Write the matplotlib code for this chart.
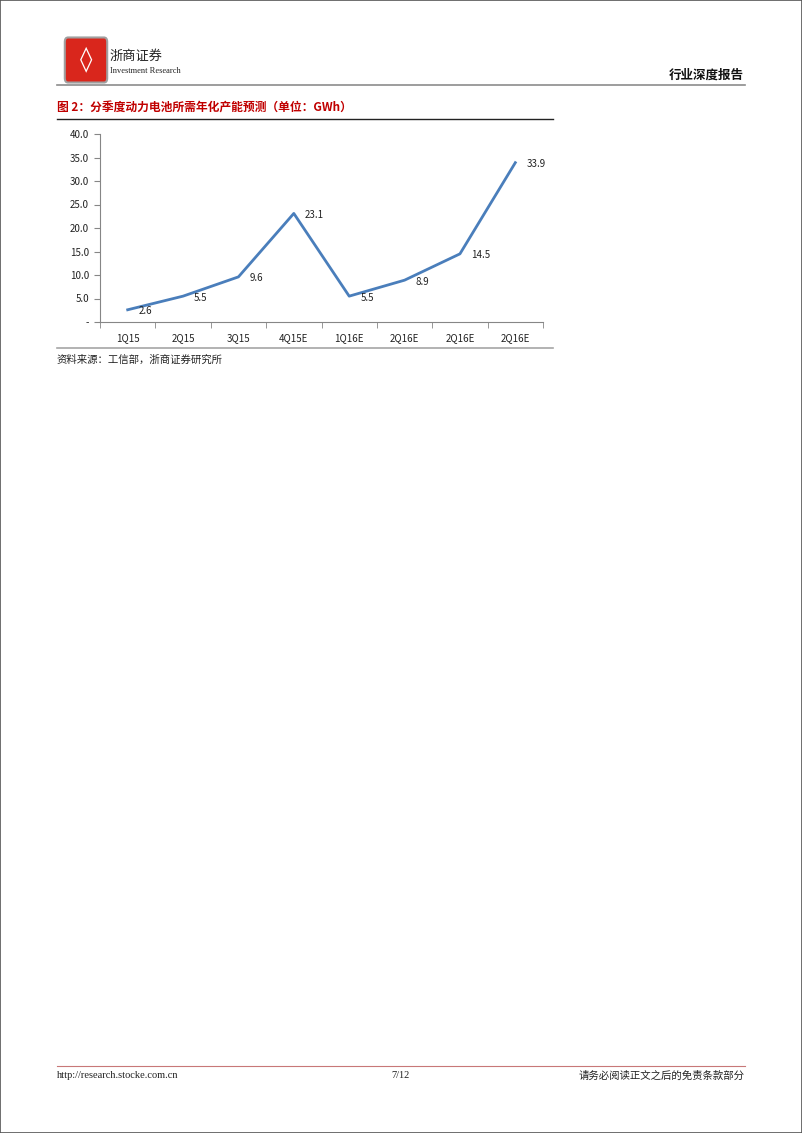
"""Annualized battery capacity chart, report page layout"""
import matplotlib
matplotlib.use("Agg")
import matplotlib.pyplot as plt
from matplotlib.patches import Rectangle, FancyBboxPatch
from matplotlib.lines import Line2D
import numpy as np

plt.rcParams['font.family'] = ['Noto Sans CJK SC', 'DejaVu Sans']

# data
quarters = ["1Q15", "2Q15", "3Q15", "4Q15E", "1Q16E", "2Q16E", "2Q16E", "2Q16E"]
capacity = [2.6, 5.5, 9.6, 23.1, 5.5, 8.9, 14.5, 33.9]
ytick_vals = [0, 5, 10, 15, 20, 25, 30, 35, 40]
ytick_labels = ["-", "5.0", "10.0", "15.0", "20.0", "25.0", "30.0", "35.0", "40.0"]

title = "图 2：分季度动力电池所需年化产能预测（单位：GWh）"
source = "资料来源：工信部，浙商证券研究所"

W, H = 802, 1133
fig = plt.figure(figsize=(W / 100, H / 100), dpi=100)


def fx(px):
    return px / W


def fy(py):
    return 1 - py / H


# page border
fig.add_artist(Rectangle((0, 0), 1, 1, transform=fig.transFigure, fill=False,
                         edgecolor="#555555", linewidth=1.2))

# header: logo + company name
fig.add_artist(FancyBboxPatch((fx(68), fy(78)), fx(36), fy(42) - fy(78),
                              boxstyle="round,pad=0.004", transform=fig.transFigure,
                              facecolor="#d9261c", edgecolor="#a0a0a0", linewidth=1.5))
fig.text(fx(86), fy(60), "◊", color="white", fontsize=18, ha="center", va="center",
         family=['DejaVu Sans'], fontweight="bold")
fig.text(fx(110), fy(56), "浙商证券", fontsize=9.5, ha="left", va="center", color="#222222")
fig.text(fx(110), fy(71), "Investment Research", fontsize=6, ha="left", va="center",
         color="#222222", family=['Liberation Serif'])
fig.text(fx(744), fy(75), "行业深度报告", fontsize=9, ha="right", va="center",
         color="#111111", fontweight="bold")
fig.add_artist(Line2D([fx(57), fx(745)], [fy(85), fy(85)], color="#8c8c8c", linewidth=1.2))

# figure title
fig.text(fx(57), fy(108), title, fontsize=8.5, ha="left", va="center",
         color="#c00000", fontweight="bold")
fig.add_artist(Line2D([fx(57), fx(553)], [fy(119), fy(119)], color="#222222", linewidth=1.0))

# chart
ax = fig.add_axes([fx(100), fy(322), fx(543) - fx(100), fy(134) - fy(322)])
x = np.arange(len(quarters))
ax.plot(x, capacity, color="#4a7ebb", linewidth=2.0)
for xi, v in zip(x, capacity):
    ax.annotate(f"{v:.1f}", (xi, v), xytext=(8, -1), textcoords="offset points",
                ha="left", va="center", fontsize=7, color="#222222")

ax.set_xlim(-0.5, len(quarters) - 0.5)
ax.set_ylim(0, 40)
ax.set_yticks(ytick_vals)
ax.set_yticklabels(ytick_labels)
ax.set_xticks(x)
ax.set_xticklabels(quarters)
ax.set_xticks(np.arange(-0.5, len(quarters)), minor=True)
ax.tick_params(axis="x", which="major", length=0, pad=8, labelsize=7, labelcolor="#222222")
ax.tick_params(axis="x", which="minor", length=4, color="#868686", direction="out")
ax.tick_params(axis="y", length=4, color="#868686", labelsize=7, labelcolor="#222222", pad=4)
for side in ["top", "right"]:
    ax.spines[side].set_visible(False)
for side in ["left", "bottom"]:
    ax.spines[side].set_color("#868686")
    ax.spines[side].set_linewidth(0.8)

fig.add_artist(Line2D([fx(57), fx(553)], [fy(348), fy(348)], color="#a6a6a6", linewidth=1.2))
fig.text(fx(57), fy(360), source, fontsize=7.5, ha="left", va="center", color="#222222")

# footer
fig.add_artist(Line2D([fx(57), fx(745)], [fy(1066), fy(1066)], color="#c87878", linewidth=0.8))
fig.text(fx(57), fy(1076), "http://research.stocke.com.cn", fontsize=7.5, ha="left",
         va="center", color="#222222", family=['Liberation Serif'])
fig.text(fx(400), fy(1076), "7/12", fontsize=7.5, ha="center", va="center",
         color="#222222", family=['Liberation Serif'])
fig.text(fx(745), fy(1076), "请务必阅读正文之后的免责条款部分", fontsize=7.5, ha="right",
         va="center", color="#222222")

fig.savefig("out.png", dpi=100)
